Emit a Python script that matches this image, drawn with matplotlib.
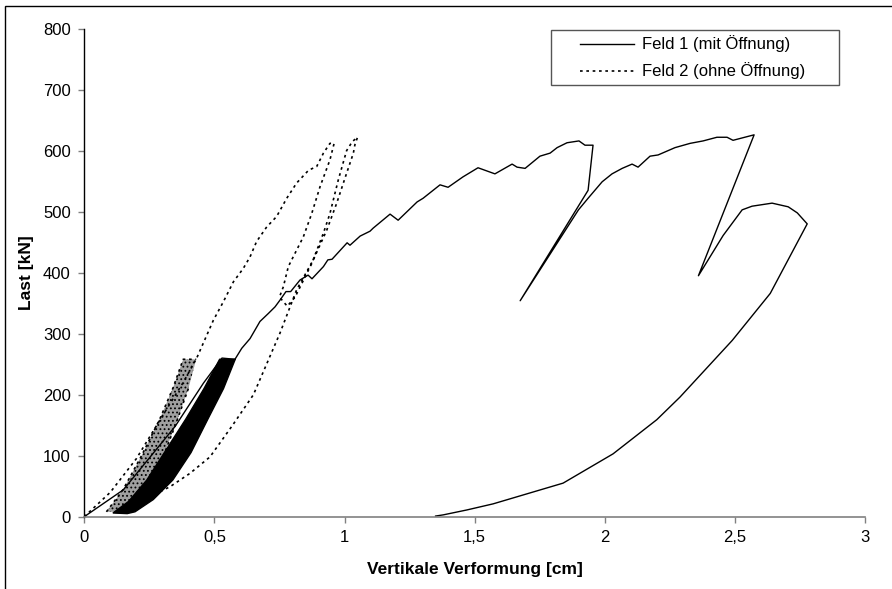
import matplotlib
matplotlib.use("Agg")
import matplotlib.pyplot as plt
from matplotlib.patches import Rectangle
from matplotlib.ticker import FuncFormatter
from matplotlib.legend_handler import HandlerLine2D

plt.rcParams['font.family'] = ['Liberation Sans', 'DejaVu Sans']
plt.rcParams['hatch.linewidth'] = 0.8

# ---------------- data ----------------
# Feld 1 (mit Öffnung): initial loading up to the cycling level
f1_init_x = [0.0, 0.15, 0.349, 0.458, 0.529, 0.579]
f1_init_y = [0, 44, 148, 219, 260, 258]

# Feld 1: envelope of the load cycles (dense black band)
f1_band_upper_x = [0.11, 0.17, 0.24, 0.30, 0.39, 0.46, 0.52, 0.58]
f1_band_upper_y = [6, 25, 60, 100, 160, 210, 258, 258]
f1_band_lower_x = [0.535, 0.475, 0.41, 0.34, 0.265, 0.195, 0.165]
f1_band_lower_y = [210, 160, 105, 60, 28, 8, 5]

# Feld 1: further loading, unloading / reloading loops and final unloading
f1_x = [0.579, 0.605, 0.637, 0.675, 0.707, 0.733, 0.752, 0.775, 0.793, 0.829,
        0.860, 0.875, 0.919, 0.936, 0.952, 1.010, 1.021, 1.060, 1.098, 1.110,
        1.175, 1.206, 1.279, 1.302, 1.367, 1.398, 1.455, 1.513, 1.578, 1.644,
        1.663, 1.694, 1.751, 1.790, 1.817, 1.855, 1.901, 1.924, 1.955, 1.936,
        1.675, 1.899, 1.936, 1.990, 2.028, 2.067, 2.105, 2.128, 2.174, 2.205,
        2.270, 2.328, 2.378, 2.431, 2.470, 2.493, 2.520, 2.574, 2.360, 2.455,
        2.528, 2.566, 2.643, 2.705, 2.740, 2.778, 2.636, 2.490, 2.289, 2.200,
        2.032, 1.840, 1.571, 1.470, 1.380, 1.350]
f1_y = [258, 276, 292, 320, 333, 344, 355, 369, 369, 388,
        396, 390, 410, 421, 422, 449, 445, 460, 468, 473,
        496, 486, 516, 522, 544, 540, 557, 572, 562, 578,
        573, 571, 591, 596, 605, 613, 616, 609, 609, 535,
        354, 503, 522, 549, 562, 571, 578, 573, 591, 593,
        605, 612, 616, 622, 622, 617, 620, 626, 395, 461,
        503, 509, 514, 508, 498, 480, 366, 289, 196, 159,
        103, 55, 21, 11, 3, 1]

# Feld 2 (ohne Öffnung): envelope of the load cycles (dotted band)
f2_band_left_x = [0.085, 0.15, 0.22, 0.29, 0.34, 0.38, 0.43]
f2_band_left_y = [8, 45, 100, 160, 210, 258, 258]
f2_band_right_x = [0.40, 0.35, 0.30, 0.22, 0.15]
f2_band_right_y = [210, 150, 95, 45, 8]

# Feld 2: loading, unloading / reloading and final unloading
f2_x = [0.0, 0.10, 0.20, 0.30, 0.38, 0.432, 0.496, 0.534, 0.573, 0.611,
        0.637, 0.662, 0.701, 0.739, 0.778, 0.816, 0.862, 0.893, 0.919, 0.944,
        0.960, 0.944, 0.906, 0.874, 0.842, 0.810, 0.784, 0.765, 0.750, 0.780,
        0.810, 0.874, 0.919, 0.944, 0.976, 1.008, 1.030, 1.050, 1.040, 1.034,
        1.008, 0.970, 0.932, 0.880, 0.816, 0.752, 0.650, 0.570, 0.483, 0.406,
        0.329, 0.253, 0.170]
f2_y = [0, 40, 95, 165, 220, 260, 322, 352, 385, 407,
        426, 451, 475, 492, 522, 547, 568, 574, 596, 612,
        612, 585, 541, 497, 459, 432, 410, 377, 360, 345,
        360, 415, 465, 497, 552, 600, 615, 622, 610, 596,
        563, 514, 470, 421, 372, 301, 200, 150, 98, 71,
        49, 33, 8]

x_ticks = [0, 0.5, 1, 1.5, 2, 2.5, 3]
y_ticks = [0, 100, 200, 300, 400, 500, 600, 700, 800]


class RightLineHandler(HandlerLine2D):
    """Draw the legend line only over the right part of the handle box."""
    def __init__(self, frac=0.3, **kw):
        super().__init__(**kw)
        self.frac = frac

    def get_xdata(self, legend, xdescent, ydescent, width, height, fontsize):
        x0 = -xdescent
        x1 = -xdescent + width
        xs = x0 + (x1 - x0) * self.frac
        return [xs, x1], [xs, x1]


# ---------------- figure ----------------
fig = plt.figure(figsize=(8.92, 5.89), dpi=100)
ax = fig.add_axes([0.0945, 0.1228, 0.8752, 0.8285])

# figure frame (left and top edges visible)
fig.patches.append(Rectangle((5 / 892, -0.1), 1.2, 0.1 + (1 - 6 / 589),
                             transform=fig.transFigure, fill=False,
                             edgecolor='black', linewidth=1.0, zorder=0))

dot_style = (0, (1.6, 2.2))

# Feld 2 dotted band
band2_x = f2_band_left_x + f2_band_right_x
band2_y = f2_band_left_y + f2_band_right_y
ax.fill(band2_x, band2_y, facecolor='#a0a0a0', edgecolor='black',
        hatch='....', linewidth=0)
ax.plot(f2_band_left_x, f2_band_left_y, color='black', lw=1.2, ls=dot_style)
ax.plot(f2_band_right_x, f2_band_right_y, color='black', lw=1.2, ls=dot_style)

# Feld 1 black band
band1_x = f1_band_upper_x + f1_band_lower_x
band1_y = f1_band_upper_y + f1_band_lower_y
ax.fill(band1_x, band1_y, facecolor='black', edgecolor='black', linewidth=1.0)

ax.plot(f1_init_x, f1_init_y, color='black', lw=1.0)
l1, = ax.plot(f1_x, f1_y, color='black', lw=1.0, label='Feld 1 (mit Öffnung)')
l2, = ax.plot(f2_x, f2_y, color='black', lw=1.2, ls=dot_style,
              label='Feld 2 (ohne Öffnung)')

ax.set_xlim(0, 3)
ax.set_ylim(0, 800)
ax.set_xticks(x_ticks)
ax.set_yticks(y_ticks)
ax.xaxis.set_major_formatter(FuncFormatter(
    lambda v, p: ('%g' % v).replace('.', ',')))

for s in ['top', 'right']:
    ax.spines[s].set_visible(False)
ax.spines['left'].set_color('black')
ax.spines['bottom'].set_color('#808080')
ax.spines['left'].set_linewidth(1.0)
ax.spines['bottom'].set_linewidth(1.2)
ax.tick_params(axis='both', direction='out', length=4.3, width=1,
               color='#808080', labelsize=12, labelcolor='black')
ax.tick_params(axis='x', pad=5.5)
ax.tick_params(axis='y', pad=5.5)

ax.set_xlabel('Vertikale Verformung [cm]', fontsize=12.5, fontweight='bold',
              labelpad=12)
ax.set_ylabel('Last [kN]', fontsize=12.5, fontweight='bold', labelpad=6)

leg = ax.legend(handles=[l1, l2],
                labels=['Feld 1 (mit Öffnung)' + ' ' * 6,
                        'Feld 2 (ohne Öffnung)' + ' ' * 6],
                handler_map={l1: RightLineHandler(0.3),
                             l2: RightLineHandler(0.3)},
                loc='upper right', bbox_to_anchor=(0.9667, 0.9973),
                borderaxespad=0, fontsize=12, handlelength=4.7,
                handletextpad=0.48, labelspacing=0.6, borderpad=0.33,
                fancybox=False, framealpha=1, edgecolor='#555555')
leg.get_frame().set_linewidth(1.0)

fig.savefig('out.png', dpi=100)
